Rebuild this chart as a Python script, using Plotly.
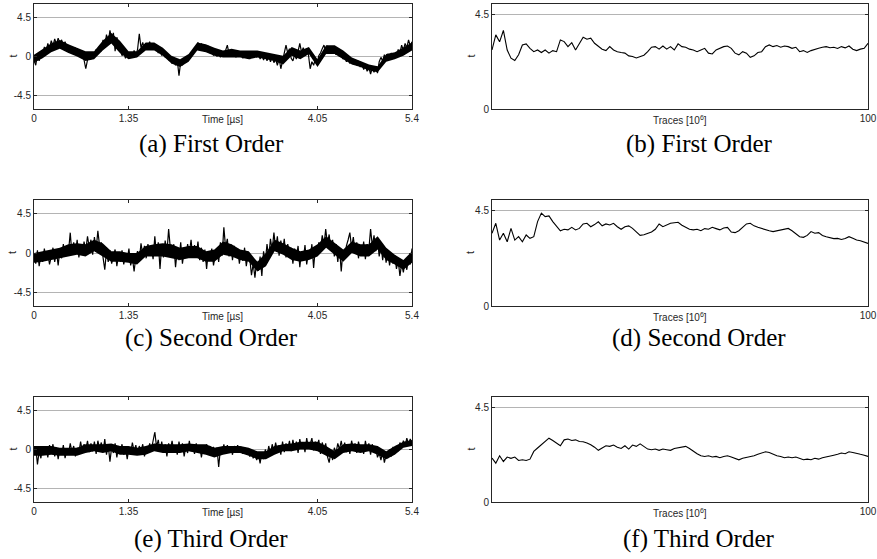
import numpy as np
import plotly.graph_objects as go

# ---------------- data ----------------
time_end_us = 5.4
time_ticks = [0, 1.35, 4.05, 5.4]
time_ticktext = ["0", "1.35", "4.05", "5.4"]
t_ticks_left = [-4.5, 0, 4.5]
t_ticktext_left = ["-4.5", "0", "4.5"]
t_ticks_right = [0, 4.5]
t_ticktext_right = ["0", "4.5"]
trace_ticks = [100]
trace_ticktext = ["100"]

# noisy t-statistic traces over time (sampled uniformly over 0..5.4 us)
first_order_t = [
    -0.4, -1.0, 0.2, -0.5, 0.6, 0.1, 1.1, 0.5, 1.5, 0.9,
    1.8, 1.2, 2.0, 1.4, 2.1, 1.5, 1.9, 1.2, 1.7, 1.0,
    1.3, 0.6, 1.1, 0.4, 1.0, 0.2, 0.8, 0.0, 0.6, -0.3,
    -1.4, -0.4, 0.2, -0.3, 0.5, 0.0, 0.8, 0.3, 1.2, 0.6,
    1.9, 1.2, 2.5, 1.6, 3.0, 2.0, 2.7, 0.6, 2.2, 1.3,
    0.8, 0.1, 0.5, -0.2, 0.6, 0.0, 0.5, -0.1, 0.7, 0.1,
    0.8, 2.6, 1.0, 1.6, 0.8, 1.5, 0.9, 1.7, 1.0, 1.4,
    0.8, 1.2, 0.4, 0.9, 0.1, 0.6, -0.1, 0.3, -0.4, 0.0,
    -0.8, -0.2, -1.0, -0.4, -2.2, -0.6, -1.0, -0.2, -0.7, 0.1,
    -0.3, 0.4, 0.2, 1.0, 0.8, 1.6, 1.0, 1.5, 0.9, 1.3,
    0.7, 1.2, 0.4, 0.9, 0.1, 0.7, 0.0, 0.5, -0.1, 0.6,
    0.1, 0.6, 1.3, 0.3, 0.7, 0.0, 0.5, -0.1, 0.6, 0.0,
    0.5, -0.2, 0.6, 0.0, 0.4, -0.3, 0.5, 0.0, 0.6, -0.1,
    0.4, -0.3, 0.3, -0.4, 0.2, -0.5, 0.1, -0.6, 0.0, -0.7,
    -0.3, -1.0, -0.2, -1.4, -0.5, 0.2, 1.3, 0.4, 0.9, -0.2,
    -0.5, 0.2, -0.3, 0.6, 1.5, 0.5, 1.0, 0.3, 0.9, 0.2,
    -1.4, -0.6, -1.0, -0.3, -0.8, 0.1, 0.4, 0.9, 1.3, 0.6,
    1.2, 0.6, 1.1, 0.4, 0.9, 0.2, 0.7, 0.0, 0.4, -0.3,
    0.1, -0.6, -0.1, -0.8, -0.2, -0.9, -0.4, -1.0, -0.5, -1.2,
    -0.8, -1.5, -1.0, -1.7, -1.2, -2.0, -1.3, -1.8, -1.1, -1.9,
    -0.6, -0.1, -0.5, 0.2, -0.3, 0.3, -0.2, 0.4, -0.1, 0.3,
    0.0, 0.8, 0.4, 1.3, 0.7, 1.5, 1.0, 1.9, 1.2, 1.7,
]

second_order_t = [
    -0.3, -1.2, 0.3, -1.5, -0.2, -1.0, 0.5, -0.8, 0.0, -1.3,
    -0.4, 0.6, -1.0, 0.2, -1.4, 0.4, -0.6, 1.0, -0.3, 0.8,
    0.2, 2.3, -0.2, 1.2, 0.0, 1.5, -0.5, 0.9, -0.2, 1.3,
    0.3, 1.9, 0.6, 1.5, -0.2, 1.8, 0.4, 2.5, 0.8, 1.2,
    -0.5, -1.9, 0.2, -1.0, 0.3, -1.2, -0.3, 0.4, -1.5, -0.2,
    -1.0, 0.3, -1.3, -0.2, -0.8, 0.5, -1.4, -0.5, -2.1, -0.4,
    0.2, -0.8, 1.1, -0.2, 0.8, -0.6, 1.0, 0.0, 0.6, -0.7,
    1.9, -0.3, 1.2, -1.8, 0.9, -0.5, 1.4, 0.0, 2.7, 0.5,
    -0.2, 1.0, -1.6, 0.3, -0.8, 1.2, -1.2, 0.2, -0.5, 1.0,
    0.0, 1.5, -0.5, 0.9, -0.3, 1.3, -0.8, 0.6, -1.0, 0.4,
    -1.8, 0.2, -0.6, 0.5, -1.4, -0.2, 0.4, -1.0, 1.2, -0.3,
    2.9, 0.6, 1.6, -0.4, 1.0, -0.8, 0.8, -0.3, 0.5, -1.2,
    0.2, -0.9, 0.6, -1.5, -0.2, -0.6, -2.5, -1.2, -2.8, -0.9,
    -2.0, -0.4, -2.6, 0.2, -1.0, 1.0, -0.5, 1.6, 0.3, 2.3,
    0.5, 1.9, -0.3, 1.4, 0.2, 1.6, -0.5, 1.0, 0.0, 0.6,
    -1.2, 0.5, -0.5, 0.8, -1.6, 0.2, -0.8, 0.9, -1.3, 0.1,
    -0.6, 1.0, -1.7, 0.6, -0.2, 1.2, 0.5, 2.0, 0.8, 2.7,
    1.0, 2.1, 0.3, 1.5, -0.4, 1.0, -1.0, 0.6, -2.1, 0.3,
    -0.5, 0.8, 1.5, 2.3, 0.6, 1.8, 0.2, 1.2, -0.6, 0.9,
    -0.3, 1.3, -0.7, 1.0, 0.4, 2.7, 0.8, 2.0, 0.2, 1.5,
    -0.4, 1.0, -0.8, 0.6, -1.1, 0.3, -1.4, -0.2, -1.2, -0.3,
    -1.8, -0.8, -2.6, -1.2, -2.2, -0.9, -1.9, -0.5, -1.3, 0.5,
]

third_order_t = [
    -0.4, 0.3, -1.7, -0.2, -1.0, 0.4, -0.6, 0.2, -0.9, 0.5,
    -0.3, 0.6, -0.8, 0.2, -1.1, 0.1, -0.6, 0.5, -1.0, 0.0,
    -0.5, 0.7, -0.3, 0.4, -0.8, 0.2, -0.4, 0.9, -0.2, 0.6,
    0.0, 1.0, -0.3, 0.7, -0.2, 0.9, -0.5, 1.0, 0.1, 0.8,
    -0.3, 1.2, -0.6, 0.5, -1.4, 0.3, -0.4, 0.7, -0.9, 0.4,
    -0.3, 0.6, -0.6, 0.3, -1.1, 0.2, -0.4, 0.8, -0.2, 0.5,
    -0.6, 0.4, -0.2, 0.6, -0.8, 0.3, -0.3, 0.7, 0.0, 0.9,
    2.0, 0.3, 1.1, -0.2, 0.9, -0.4, 0.6, -0.8, 0.7, 0.0,
    1.0, -0.3, 0.5, -0.6, 0.9, -0.2, 0.7, -0.8, 0.4, -0.4,
    1.0, -0.2, 0.5, -0.5, 0.7, -0.3, 0.4, -0.9, 0.3, -0.5,
    0.6, -0.3, 0.4, -0.7, 0.3, -0.2, 0.2, -2.0, 0.1, -0.5,
    0.6, -0.4, 0.5, -0.1, 0.3, -0.6, 0.4, -0.2, 0.5, -0.3,
    0.3, -0.5, 0.2, -0.3, 0.0, -0.8, -0.2, -1.0, -0.4, -1.2,
    -0.5, -1.6, -0.3, -1.1, 0.0, -0.8, 0.4, -0.5, 0.6, -0.3,
    0.8, -0.2, 0.5, -0.6, 0.9, -0.3, 0.7, 0.0, 1.0, -0.2,
    1.1, 0.0, 0.9, -0.4, 1.2, 0.1, 0.8, -0.3, 1.3, 0.2,
    0.6, 1.3, -0.1, 0.9, 0.3, 1.1, -0.5, 0.8, 0.0, 0.7,
    -0.8, -1.5, -0.3, -1.2, 0.2, -0.4, 0.7, 0.0, 1.0, -0.2,
    0.8, -0.3, 0.6, -0.5, 1.0, 0.1, 0.7, -0.4, 0.9, 0.0,
    0.5, -0.5, 1.0, -0.1, 0.7, -0.6, 0.6, -0.3, 0.2, -0.9,
    -0.4, -1.2, -0.3, -1.5, -0.6, -1.0, 0.0, -0.8, 0.3, -0.4,
    0.4, -0.2, 0.8, 0.2, 1.0, 0.4, 1.3, 0.6, 1.2, 0.7,
]

# dense core band of each noisy trace (low / high), sampled uniformly over 0..5.4 us
first_order_low = [
    -0.7, -0.2, 0.5, 0.9, 0.4, 0.0, -0.5, -0.3, 0.7, 1.5,
    0.4, -0.3, -0.1, 0.7, 0.7, 0.1, -0.8, -1.2, -0.6, 0.7,
    0.5, 0.1, -0.1, -0.1, -0.1, -0.3, -0.1, -0.3, -0.5, -0.9,
    0.1, -0.3, 0.3, -1.2, 0.3, 0.3, -0.3, -0.9, -1.2, -1.6,
    -1.8, -0.6, -0.3, 0.1, 0.7,
]
first_order_high = [
    0.2, 0.9, 1.5, 1.9, 1.4, 1.0, 0.6, 0.6, 1.8, 2.7,
    1.8, 0.6, 0.6, 1.6, 1.6, 1.0, 0.1, -0.3, 0.3, 1.6,
    1.4, 1.0, 0.7, 0.9, 0.7, 0.7, 0.7, 0.5, 0.3, 0.1,
    1.1, 0.7, 1.1, -0.3, 1.3, 1.3, 0.7, -0.1, -0.5, -0.9,
    -1.1, 0.3, 0.5, 1.1, 1.6,
]
second_order_low = [
    -1.1, -1.0, -0.8, -0.6, -0.4, -0.2, -0.4, 0.2, -0.4, -1.0,
    -1.0, -1.1, -1.3, -0.4, -0.4, -0.4, -0.6, -0.8, -0.6, -0.6,
    -1.0, -1.0, -0.2, -0.4, -0.8, -1.0, -2.1, -1.5, 0.2, -0.2,
    -0.8, -1.0, -0.8, -0.4, 0.6, -0.2, -1.0, 0.0, -0.4, -0.4,
    0.4, -0.8, -1.3, -1.9, -1.1,
]
second_order_high = [
    0.0, 0.2, 0.4, 0.6, 1.0, 1.1, 1.0, 1.5, 1.1, 0.2,
    0.2, 0.0, 0.0, 0.8, 1.0, 1.1, 1.0, 0.6, 0.8, 0.8,
    0.2, 0.4, 1.3, 1.0, 0.4, 0.2, -1.0, 0.0, 1.5, 1.1,
    0.6, 0.2, 0.4, 1.0, 1.9, 1.1, 0.4, 1.3, 1.0, 1.0,
    1.9, 0.6, -0.2, -0.8, 0.2,
]
third_order_low = [
    -0.7, -0.7, -0.6, -0.7, -0.7, -0.7, -0.4, -0.2, -0.4, -0.2,
    -0.6, -0.6, -0.7, -0.6, -0.2, -0.4, -0.4, -0.4, -0.2, -0.4,
    -0.6, -0.9, -0.6, -0.4, -0.4, -0.7, -1.1, -1.1, -0.6, -0.2,
    -0.2, 0.0, 0.0, -0.2, -0.7, -1.1, -0.4, -0.2, -0.4, -0.2,
    -0.6, -1.1, -0.6, 0.2, 0.4,
]
third_order_high = [
    0.4, 0.4, 0.4, 0.2, 0.2, 0.2, 0.6, 0.6, 0.6, 0.7,
    0.4, 0.4, 0.2, 0.4, 0.7, 0.6, 0.6, 0.6, 0.7, 0.6,
    0.6, 0.2, 0.4, 0.4, 0.4, 0.2, -0.2, -0.2, 0.4, 0.6,
    0.7, 0.9, 0.9, 0.9, 0.4, -0.2, 0.6, 0.7, 0.6, 0.6,
    0.4, -0.2, 0.4, 0.9, 1.1,
]

traces_millions = list(range(1, 101))

first_order_max_t = [
    2.81, 3.53, 3.20, 3.74, 2.81, 2.42, 2.31, 2.58, 3.05, 3.10,
    2.89, 2.73, 2.81, 2.69, 2.81, 2.66, 2.78, 2.73, 3.29, 3.21,
    2.97, 3.16, 2.81, 3.13, 3.42, 3.32, 3.37, 3.13, 3.00, 2.85,
    2.78, 2.97, 2.81, 2.73, 2.69, 2.66, 2.53, 2.50, 2.43, 2.50,
    2.56, 2.73, 2.94, 2.97, 2.85, 3.00, 2.85, 2.97, 2.81, 3.10,
    2.97, 2.94, 2.85, 2.81, 2.73, 2.81, 2.89, 2.66, 2.62, 2.81,
    2.89, 2.97, 3.00, 2.89, 2.66, 2.58, 2.73, 2.66, 2.46, 2.53,
    2.69, 2.73, 2.97, 3.05, 2.97, 3.02, 2.94, 3.00, 2.97, 2.89,
    2.94, 2.73, 2.78, 2.69, 2.78, 2.85, 2.89, 2.94, 2.97, 2.92,
    2.94, 2.88, 2.97, 2.91, 3.00, 2.85, 2.78, 2.85, 2.89, 3.13,
]

second_order_max_t = [
    3.43, 3.90, 3.11, 3.43, 3.03, 3.66, 3.11, 3.27, 3.03, 3.35,
    3.19, 3.27, 3.98, 4.38, 4.22, 4.25, 3.98, 3.74, 3.55, 3.62,
    3.59, 3.71, 3.59, 3.66, 3.87, 3.90, 3.74, 3.84, 3.97, 3.78,
    3.87, 3.82, 3.90, 3.74, 3.62, 3.74, 3.78, 3.66, 3.51, 3.33,
    3.36, 3.43, 3.49, 3.62, 3.87, 3.74, 3.81, 3.90, 3.93, 3.95,
    3.81, 3.71, 3.62, 3.59, 3.62, 3.55, 3.65, 3.62, 3.71, 3.65,
    3.59, 3.68, 3.71, 3.49, 3.46, 3.55, 3.71, 3.87, 3.90, 3.78,
    3.71, 3.65, 3.62, 3.55, 3.51, 3.55, 3.59, 3.62, 3.66, 3.55,
    3.40, 3.27, 3.24, 3.33, 3.51, 3.43, 3.46, 3.33, 3.27, 3.21,
    3.18, 3.19, 3.14, 3.18, 3.27, 3.19, 3.11, 3.08, 3.02, 2.95,
]

third_order_max_t = [
    2.09, 1.85, 2.20, 1.93, 2.14, 2.08, 2.14, 1.98, 2.01, 1.98,
    2.04, 2.41, 2.57, 2.73, 2.88, 3.04, 2.93, 2.81, 2.68, 2.96,
    3.00, 2.93, 2.96, 2.88, 2.87, 2.81, 2.73, 2.61, 2.46, 2.57,
    2.68, 2.65, 2.71, 2.61, 2.55, 2.68, 2.52, 2.71, 2.65, 2.77,
    2.65, 2.52, 2.49, 2.52, 2.46, 2.52, 2.49, 2.46, 2.55, 2.58,
    2.61, 2.65, 2.55, 2.41, 2.30, 2.20, 2.17, 2.20, 2.14, 2.17,
    2.11, 2.17, 2.20, 2.14, 2.08, 2.01, 2.08, 2.11, 2.17, 2.20,
    2.27, 2.33, 2.39, 2.36, 2.27, 2.20, 2.17, 2.11, 2.14, 2.11,
    2.14, 2.08, 2.01, 2.04, 2.01, 2.08, 2.04, 2.11, 2.14, 2.17,
    2.23, 2.27, 2.33, 2.30, 2.39, 2.36, 2.33, 2.27, 2.23, 2.17,
]

captions = ["(a) First Order", "(b) First Order", "(c) Second Order",
            "(d) Second Order", "(e) Third Order", "(f) Third Order"]

# ---------------- figure ----------------
W, H = 877, 559
fig = go.Figure()

left_series = [first_order_t, second_order_t, third_order_t]
left_low = [first_order_low, second_order_low, third_order_low]
left_high = [first_order_high, second_order_high, third_order_high]
right_series = [first_order_max_t, second_order_max_t, third_order_max_t]

col_x = [(34, 412), (492, 868)]
row_y = [(4, 109), (200, 306), (397, 502)]
caption_y = [144, 338, 539]
caption_x = [211, 699]

axis_color = "#262626"
grid_color = "#b4b4b4"
tick_font = dict(family="Liberation Sans, Arial, sans-serif", size=10, color=axis_color)

layout = dict(
    width=W, height=H,
    margin=dict(l=0, r=0, t=0, b=0, autoexpand=False),
    paper_bgcolor="white", plot_bgcolor="white",
    showlegend=False,
)
annotations = []


def axis_common():
    return dict(ticks="inside", ticklen=3, tickcolor=axis_color,
                showline=True, linecolor=axis_color, linewidth=1,
                mirror="ticks", zeroline=False, tickfont=tick_font,
                automargin=False)


idx = 0
for r in range(3):
    for c in range(2):
        idx += 1
        xa = "xaxis" if idx == 1 else f"xaxis{idx}"
        ya = "yaxis" if idx == 1 else f"yaxis{idx}"
        xr = "x" if idx == 1 else f"x{idx}"
        yr = "y" if idx == 1 else f"y{idx}"
        x0, x1 = col_x[c]
        ytop, ybot = row_y[r]
        xdom = [x0 / W, x1 / W]
        ydom = [1 - ybot / H, 1 - ytop / H]
        if c == 0:
            lo, hi = left_low[r], left_high[r]
            nb = len(lo)
            xb = np.arange(nb) * (time_end_us / (nb - 1))
            fig.add_trace(go.Scatter(x=xb, y=lo, mode="lines",
                                     line=dict(color="black", width=0),
                                     xaxis=xr, yaxis=yr, hoverinfo="skip"))
            fig.add_trace(go.Scatter(x=xb, y=hi, mode="lines", fill="tonexty",
                                     fillcolor="black",
                                     line=dict(color="black", width=0),
                                     xaxis=xr, yaxis=yr, hoverinfo="skip"))
            vals = left_series[r]
            n = len(vals)
            xs = np.arange(n) * (time_end_us / (n - 1))
            fig.add_trace(go.Scatter(x=xs, y=vals, mode="lines",
                                     line=dict(color="black", width=1.2),
                                     xaxis=xr, yaxis=yr, hoverinfo="skip"))
            layout[xa] = dict(domain=xdom, anchor=yr, range=[0, time_end_us],
                              tickvals=time_ticks, ticktext=time_ticktext,
                              showgrid=False, **axis_common())
            layout[ya] = dict(domain=ydom, anchor=xr, range=[-6, 6],
                              tickvals=t_ticks_left, ticktext=t_ticktext_left,
                              showgrid=True, gridcolor=grid_color, gridwidth=1,
                              **axis_common())
            xlabel = "Time [µs]"
        else:
            vals = right_series[r]
            fig.add_trace(go.Scatter(x=traces_millions, y=vals, mode="lines",
                                     line=dict(color="black", width=1.1),
                                     xaxis=xr, yaxis=yr, hoverinfo="skip"))
            layout[xa] = dict(domain=xdom, anchor=yr, range=[1, 100],
                              tickvals=trace_ticks, ticktext=trace_ticktext,
                              showgrid=False, **axis_common())
            layout[ya] = dict(domain=ydom, anchor=xr, range=[0, 5],
                              tickvals=t_ticks_right, ticktext=t_ticktext_right,
                              showgrid=True, gridcolor=grid_color, gridwidth=1,
                              **axis_common())
            xlabel = "Traces [10<sup>6</sup>]"
        # x label on the tick-label row
        annotations.append(dict(text=xlabel, xref=f"{xr} domain", yref=f"{yr} domain",
                                x=0.5, y=0, xanchor="center", yanchor="top", yshift=-3,
                                showarrow=False, font=tick_font))
        # y label "t"
        ylab_x = 12 if c == 0 else 470
        annotations.append(dict(text="t", xref="paper", yref=f"{yr} domain",
                                x=ylab_x / W, y=0.5, xanchor="center", yanchor="middle",
                                textangle=-90, showarrow=False,
                                font=dict(family="Liberation Sans, Arial, sans-serif",
                                          size=11, color=axis_color)))
        # caption
        annotations.append(dict(text=captions[idx - 1], xref="paper", yref="paper",
                                x=caption_x[c] / W, y=1 - caption_y[r] / H,
                                xanchor="center", yanchor="middle", showarrow=False,
                                font=dict(family="Liberation Serif, Times New Roman, serif",
                                          size=25, color="black")))

layout["annotations"] = annotations
fig.update_layout(**layout)
fig.write_html("out.html", config={"displayModeBar": False},
               post_script="document.body.style.margin='0';document.body.style.overflow='hidden';")
